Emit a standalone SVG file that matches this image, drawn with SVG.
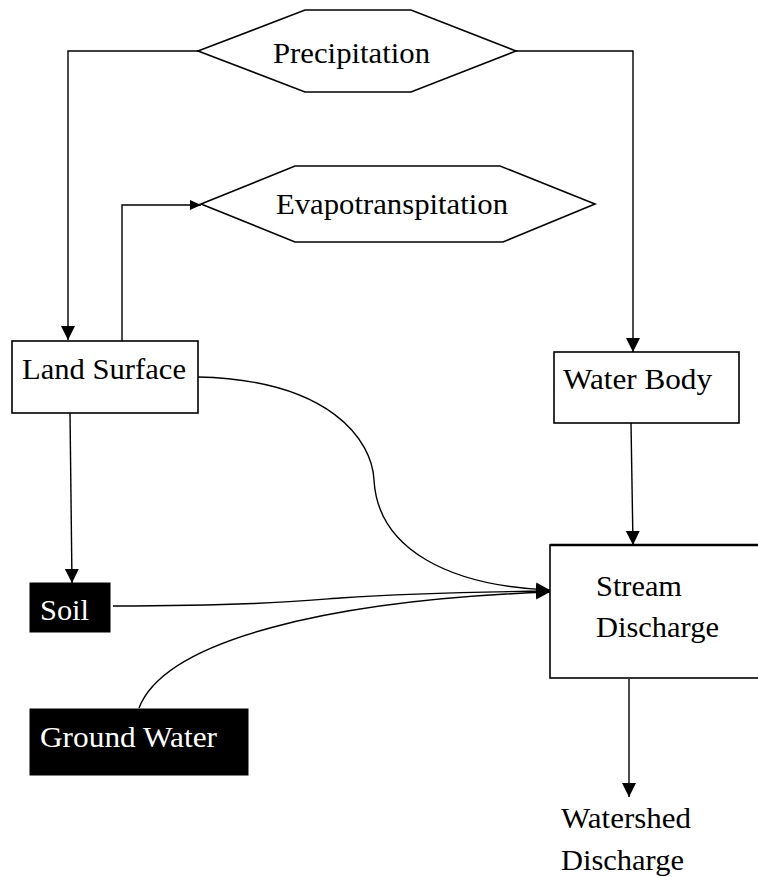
<svg xmlns="http://www.w3.org/2000/svg" width="758" height="877" viewBox="0 0 758 877">
<defs>
<marker id="ah" markerUnits="userSpaceOnUse" markerWidth="16" markerHeight="16" refX="14" refY="8" orient="auto">
<path d="M0,1 L14,8 L0,15 z" fill="#000"/>
</marker>
<marker id="ahs" markerUnits="userSpaceOnUse" markerWidth="12" markerHeight="12" refX="11" refY="6" orient="auto">
<path d="M0,1 L11,6 L0,11 z" fill="#000"/>
</marker>
<style>
.shape{fill:#fff;stroke:#000;stroke-width:1.6}
.dark{fill:#000;stroke:#000;stroke-width:1}
.lbl{font-family:"Liberation Serif","Times New Roman",serif;font-size:29px;fill:#000}
.wl{font-family:"Liberation Serif","Times New Roman",serif;font-size:29px;fill:#fff}
.conn{fill:none;stroke:#000;stroke-width:1.4}
</style>
</defs>
<rect width="758" height="877" fill="#fff"/>
<g id="connectors">
<path class="conn" d="M198,51 H68 V340" marker-end="url(#ah)"/>
<path class="conn" d="M516,51 H633 V352" marker-end="url(#ah)"/>
<path class="conn" d="M122,341 V205 H201" marker-end="url(#ahs)"/>
<path class="conn" d="M70,413 L72,583" marker-end="url(#ah)"/>
<path class="conn" d="M631,423 L633,545" marker-end="url(#ah)"/>
<path class="conn" d="M629,679 V797" marker-end="url(#ah)"/>
<path class="conn" d="M198,377 C330,380 372,440 374,480 C378,550 450,586 550,590" marker-end="url(#ah)"/>
<path class="conn" d="M113,606 C250,606 300,601 340,598 C400,594 470,592 550,591" marker-end="url(#ah)"/>
<path class="conn" d="M139,708 C165,640 330,600 550,592" marker-end="url(#ah)"/>
</g>
<g id="precipitation">
<polygon class="shape" points="198,51 305,10 411,10 516,51 411,92 305,92"/>
<text class="lbl" x="273" y="63" textLength="157" lengthAdjust="spacingAndGlyphs">Precipitation</text>
</g>
<g id="evapotranspiration">
<polygon class="shape" points="201,204 295,166 500,166 595,204 503,242 295,242"/>
<text class="lbl" x="276" y="214" textLength="232" lengthAdjust="spacingAndGlyphs">Evapotranspitation</text>
</g>
<g id="land-surface">
<rect class="shape" x="12" y="341" width="186" height="72"/>
<text class="lbl" x="22" y="379" textLength="164" lengthAdjust="spacingAndGlyphs">Land Surface</text>
</g>
<g id="water-body">
<rect class="shape" x="554" y="352" width="185" height="71"/>
<text class="lbl" x="563" y="389" textLength="149" lengthAdjust="spacingAndGlyphs">Water Body</text>
</g>
<g id="stream-discharge">
<rect class="shape" x="550" y="545" width="215" height="133"/>
<line x1="550" y1="545" x2="758" y2="545" stroke="#000" stroke-width="2.6"/>
<text class="lbl" x="596" y="596" textLength="86" lengthAdjust="spacingAndGlyphs">Stream</text>
<text class="lbl" x="596" y="637" textLength="123" lengthAdjust="spacingAndGlyphs">Discharge</text>
</g>
<g id="soil">
<rect class="dark" x="30" y="583" width="80" height="49"/>
<text class="wl" x="40" y="620" textLength="49" lengthAdjust="spacingAndGlyphs">Soil</text>
</g>
<g id="ground-water">
<rect class="dark" x="30" y="709" width="218" height="66"/>
<text class="wl" x="40" y="747" textLength="177" lengthAdjust="spacingAndGlyphs">Ground Water</text>
</g>
<g id="watershed-discharge">
<text class="lbl" x="561" y="828" textLength="130" lengthAdjust="spacingAndGlyphs">Watershed</text>
<text class="lbl" x="561" y="870" textLength="123" lengthAdjust="spacingAndGlyphs">Discharge</text>
</g>
</svg>
